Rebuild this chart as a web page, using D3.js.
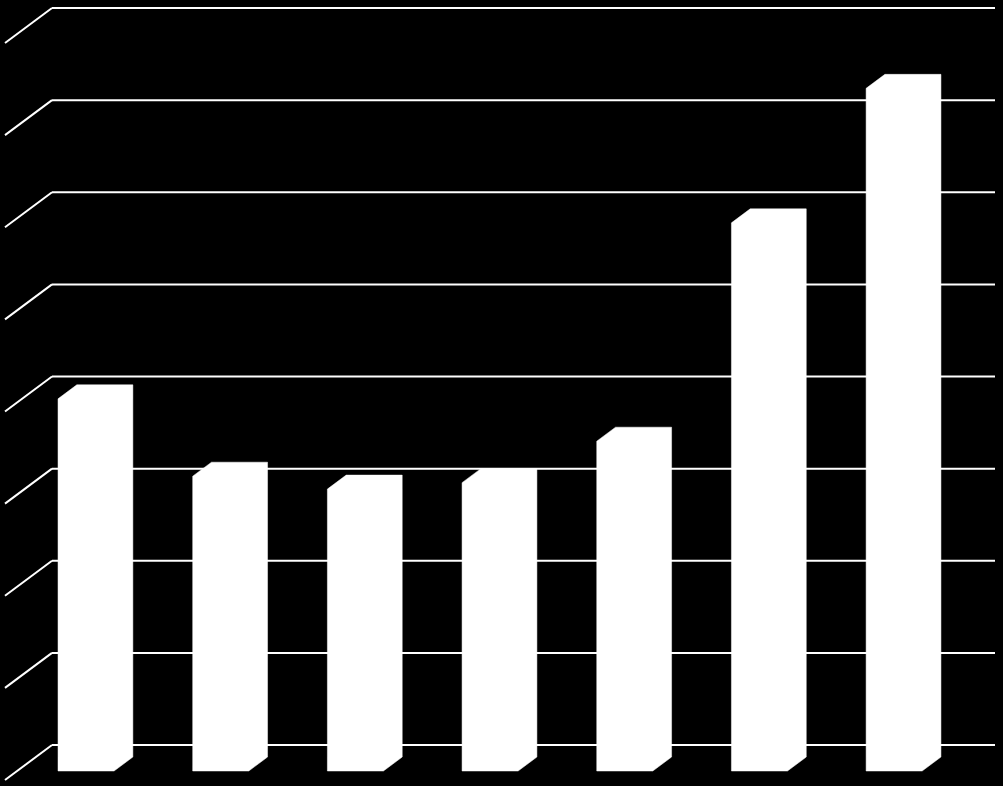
<!DOCTYPE html>
<html>
<head>
<meta charset="utf-8">
<script src="https://cdn.jsdelivr.net/npm/d3@7"></script>
<style>
  html, body { margin: 0; padding: 0; background: #000; }
  svg { display: block; }
</style>
</head>
<body>
<svg id="chart"></svg>
<script>
// 数据（图中无标签，仅读取柱高）
const categories = ["A", "B", "C", "D", "E", "F", "G"];
const values = [4.04, 3.20, 3.06, 3.13, 3.58, 5.95, 7.41];
const gridTicks = [0, 1, 2, 3, 4, 5, 6, 7, 8];

const width = 1003, height = 786;

// 背墙区域
const wall = { left: 52, right: 995, top: 8, bottom: 745 };
// 地面纵深方向（从背墙到前沿）
const depth = { x: -47, y: 35 };
// 柱子在纵深中的位置（比例）
const barBack = 12 / 35, barFront = 26 / 35;

const svg = d3.select("#chart")
    .attr("width", width)
    .attr("height", height);

const x = d3.scaleBand()
    .domain(categories)
    .range([wall.left, 998])
    .paddingInner(0.584)
    .paddingOuter(0.304);

const y = d3.scaleLinear()
    .domain([0, 8])
    .range([wall.bottom, wall.top]);

// 网格线：背墙横线 + 侧边斜线
const grid = svg.append("g").attr("class", "grid");

grid.selectAll(".wallLine")
    .data(gridTicks)
    .enter()
    .append("line")
    .attr("class", "wallLine")
    .attr("x1", wall.left)
    .attr("x2", wall.right)
    .attr("y1", d => y(d))
    .attr("y2", d => y(d))
    .style("stroke", "#fff")
    .style("stroke-width", 2);

grid.selectAll(".floorLine")
    .data(gridTicks)
    .enter()
    .append("line")
    .attr("class", "floorLine")
    .attr("x1", wall.left)
    .attr("y1", d => y(d))
    .attr("x2", wall.left + depth.x)
    .attr("y2", d => y(d) + depth.y)
    .style("stroke", "#fff")
    .style("stroke-width", 2);

// 柱子轮廓（前面 + 顶面 + 侧面，全部白色）
function barPath(d, i) {
    const xl = x(categories[i]);
    const xr = xl + x.bandwidth();
    const yt = y(d), yb = y(0);
    const fx = depth.x * barFront, fy = depth.y * barFront;
    const bx = depth.x * barBack, by = depth.y * barBack;
    const pts = [
        [xl + fx, yb + fy],
        [xl + fx, yt + fy],
        [xl + bx, yt + by],
        [xr + bx, yt + by],
        [xr + bx, yb + by],
        [xr + fx, yb + fy]
    ];
    return "M" + pts.map(p => p.join(",")).join("L") + "Z";
}

svg.append("g")
    .attr("class", "bars")
    .selectAll("path")
    .data(values)
    .enter()
    .append("path")
    .attr("d", (d, i) => barPath(d, i))
    .style("fill", "#fff")
    .style("stroke", "#fff")
    .style("stroke-width", 0.5);
</script>
</body>
</html>
